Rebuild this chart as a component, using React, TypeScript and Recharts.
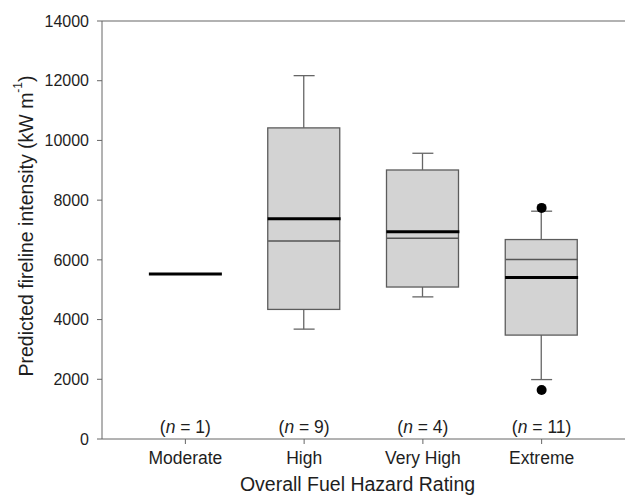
import { ComposedChart, Bar, Scatter, XAxis, YAxis, ReferenceLine, Label } from 'recharts';

const categories = ['Moderate', 'High', 'Very High', 'Extreme'];
const sampleSizes = [1, 9, 4, 11];
const whiskerLow = [null, 3680, 4760, 1990];
const quartile1 = [null, 4340, 5090, 3480];
const medians = [null, 6630, 6720, 6010];
const quartile3 = [null, 10420, 9010, 6680];
const whiskerHigh = [null, 12170, 9570, 7630];
const means = [5530, 7380, 6940, 5410];
const outliersHigh = [null, null, null, 7740];
const outliersLow = [null, null, null, 1640];
const yTicks = [0, 2000, 4000, 6000, 8000, 10000, 12000, 14000];

const FONT = '"Liberation Sans", Arial, sans-serif';
const TEXT = '#1e1e1e';
const LINE = '#666666';

const rows = categories.map((name, i) => {
  const lo = whiskerLow[i];
  const q1 = quartile1[i];
  const q3 = quartile3[i];
  const hi = whiskerHigh[i];
  const hasBox = lo != null && q1 != null && q3 != null && hi != null;
  return {
    name,
    n: sampleSizes[i],
    zero: 0,
    base: hasBox ? lo : null,
    lowWhisker: hasBox ? q1 - lo : null,
    box: hasBox ? q3 - q1 : null,
    highWhisker: hasBox ? hi - q3 : null,
    lo,
    hi,
    median: medians[i],
    mean: means[i],
    outHi: outliersHigh[i],
    outLo: outliersLow[i],
  };
});

const whiskerShape = (p: any) => {
  if (!p.height) return <g />;
  const cx = p.x + p.width / 2;
  return <line x1={cx} x2={cx} y1={p.y} y2={p.y + p.height} stroke={LINE} strokeWidth={1.3} />;
};

const boxShape = (p: any) => {
  if (!p.height) return <g />;
  return (
    <rect x={p.x} y={p.y} width={p.width} height={p.height} fill="#d3d3d3" stroke="#5c5c5c" strokeWidth={1.3} />
  );
};

const hLine = (key: string, width: number, stroke: string, strokeWidth: number) => (p: any) => {
  if (p.payload == null || p.payload[key] == null) return <g />;
  return (
    <line x1={p.cx - width / 2} x2={p.cx + width / 2} y1={p.cy} y2={p.cy} stroke={stroke} strokeWidth={strokeWidth} />
  );
};

const dotShape = (key: string) => (p: any) => {
  if (p.payload == null || p.payload[key] == null) return <g />;
  return <circle cx={p.cx} cy={p.cy} r={5} fill="#000" />;
};

const countShape = (p: any) => (
  <text x={p.cx} y={p.cy - 6} textAnchor="middle" fontSize={17.5} fontFamily={FONT} fill={TEXT}>
    (<tspan fontStyle="italic">n</tspan> = {p.payload.n})
  </text>
);

const renderYTitle = (props: any) => {
  const vb = props.viewBox || { x: 42, y: 21, width: 60, height: 418 };
  const cx = vb.x - 16;
  const cy = vb.y + vb.height / 2 - 4;
  return (
    <text
      x={cx}
      y={cy}
      transform={`rotate(-90, ${cx}, ${cy})`}
      textAnchor="middle"
      dominantBaseline="central"
      fontSize={19.5}
      fontFamily={FONT}
      fill={TEXT}
    >
      Predicted fireline intensity (kW m<tspan fontSize={12} dy={-8}>-1</tspan>
      <tspan dy={8}>)</tspan>
    </text>
  );
};

export default function App() {
  return (
    <div style={{ position: 'absolute', left: 0, top: 0, width: 625, height: 497, background: '#fff' }}>
      <ComposedChart width={625} height={497} data={rows} margin={{ top: 21, right: 0, left: 42, bottom: 0 }}>
        <XAxis
          dataKey="name"
          padding={{ left: 24, right: 24 }}
          height={58}
          tickSize={5}
          tickMargin={8}
          stroke={LINE}
          tick={{ fontSize: 17.5, fontFamily: FONT, fill: TEXT }}
        >
          <Label
            value="Overall Fuel Hazard Rating"
            position="insideBottom"
            offset={6}
            dx={-6}
            style={{ fontSize: 19.5, fontFamily: FONT, fill: TEXT }}
          />
        </XAxis>
        <YAxis
          type="number"
          domain={[0, 14000]}
          ticks={yTicks}
          interval={0}
          width={60}
          tickSize={5}
          tickMargin={8}
          stroke={LINE}
          tick={{ fontSize: 16, fontFamily: FONT, fill: TEXT }}
        >
          <Label content={renderYTitle} />
        </YAxis>
        <ReferenceLine y={14000} stroke={LINE} strokeWidth={1.2} />
        <Bar dataKey="base" stackId="bp" fill="none" barSize={72} isAnimationActive={false} />
        <Bar dataKey="lowWhisker" stackId="bp" barSize={72} shape={whiskerShape} isAnimationActive={false} />
        <Bar dataKey="box" stackId="bp" barSize={72} shape={boxShape} isAnimationActive={false} />
        <Bar dataKey="highWhisker" stackId="bp" barSize={72} shape={whiskerShape} isAnimationActive={false} />
        <Scatter dataKey="hi" shape={hLine('hi', 21, LINE, 1.3)} isAnimationActive={false} />
        <Scatter dataKey="lo" shape={hLine('lo', 21, LINE, 1.3)} isAnimationActive={false} />
        <Scatter dataKey="median" shape={hLine('median', 72, '#555555', 1.5)} isAnimationActive={false} />
        <Scatter dataKey="mean" shape={hLine('mean', 73, '#000000', 3)} isAnimationActive={false} />
        <Scatter dataKey="outHi" shape={dotShape('outHi')} isAnimationActive={false} />
        <Scatter dataKey="outLo" shape={dotShape('outLo')} isAnimationActive={false} />
        <Scatter dataKey="zero" shape={countShape} isAnimationActive={false} />
      </ComposedChart>
    </div>
  );
}
